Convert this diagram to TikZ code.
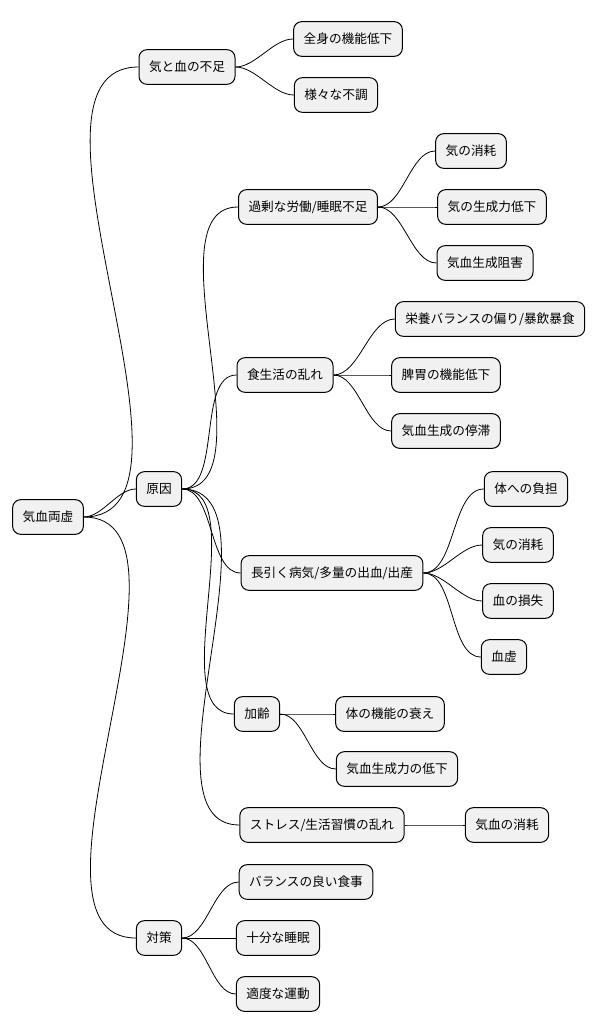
\documentclass[tikz,border=0pt]{standalone}
\usepackage{fontspec}
\setmainfont{Noto Sans CJK JP}
\begin{document}
\begin{tikzpicture}[x=0.75pt,y=-0.75pt,
  box/.style={draw=black,line width=0.75pt,fill={rgb,255:red,241;green,241;blue,241},rounded corners=6pt,minimum height=26pt,inner xsep=7.5pt,font=\fontsize{9.5pt}{11pt}\selectfont},
  con/.style={line width=0.6pt}]
\useasboundingbox (0,0) rectangle (605,1034);
\node[box] (r) at (48,517) {気血両虚};
\node[box] (a) at (187,67) {気と血の不足};
\node[box] (a1) at (348,39) {全身の機能低下};
\node[box] (a2) at (336,95) {様々な不調};
\node[box] (b) at (159,489) {原因};
\node[box] (b1) at (308,207) {過剰な労働/睡眠不足};
\node[box] (b11) at (471,151) {気の消耗};
\node[box] (b12) at (492,207) {気の生成力低下};
\node[box] (b13) at (485,263) {気血生成阻害};
\node[box] (b2) at (285,375) {食生活の乱れ};
\node[box] (b21) at (490,319) {栄養バランスの偏り/暴飲暴食};
\node[box] (b22) at (446,375) {脾胃の機能低下};
\node[box] (b23) at (446,431) {気血生成の停滞};
\node[box] (b3) at (332,573) {長引く病気/多量の出血/出産};
\node[box] (b31) at (526,489) {体への負担};
\node[box] (b32) at (518,545) {気の消耗};
\node[box] (b33) at (518,601) {血の損失};
\node[box] (b34) at (504,657) {血虚};
\node[box] (b4) at (257,714) {加齢};
\node[box] (b41) at (390,714) {体の機能の衰え};
\node[box] (b42) at (397,769) {気血生成力の低下};
\node[box] (b5) at (322,825) {ストレス/生活習慣の乱れ};
\node[box] (b51) at (507,825) {気血の消耗};
\node[box] (c) at (159,938) {対策};
\node[box] (c1) at (306,882) {バランスの良い食事};
\node[box] (c2) at (278,938) {十分な睡眠};
\node[box] (c3) at (278,994) {適度な運動};
\foreach \p/\c in {r/a,r/b,r/c,a/a1,a/a2,b/b1,b/b2,b/b3,b/b4,b/b5,b1/b11,b1/b12,b1/b13,b2/b21,b2/b22,b2/b23,b3/b31,b3/b32,b3/b33,b3/b34,b4/b41,b4/b42,b5/b51,c/c1,c/c2,c/c3}
  \draw[con] (\p.east) to[out=0,in=180,looseness=0.8] (\c.west);
\end{tikzpicture}
\end{document}
